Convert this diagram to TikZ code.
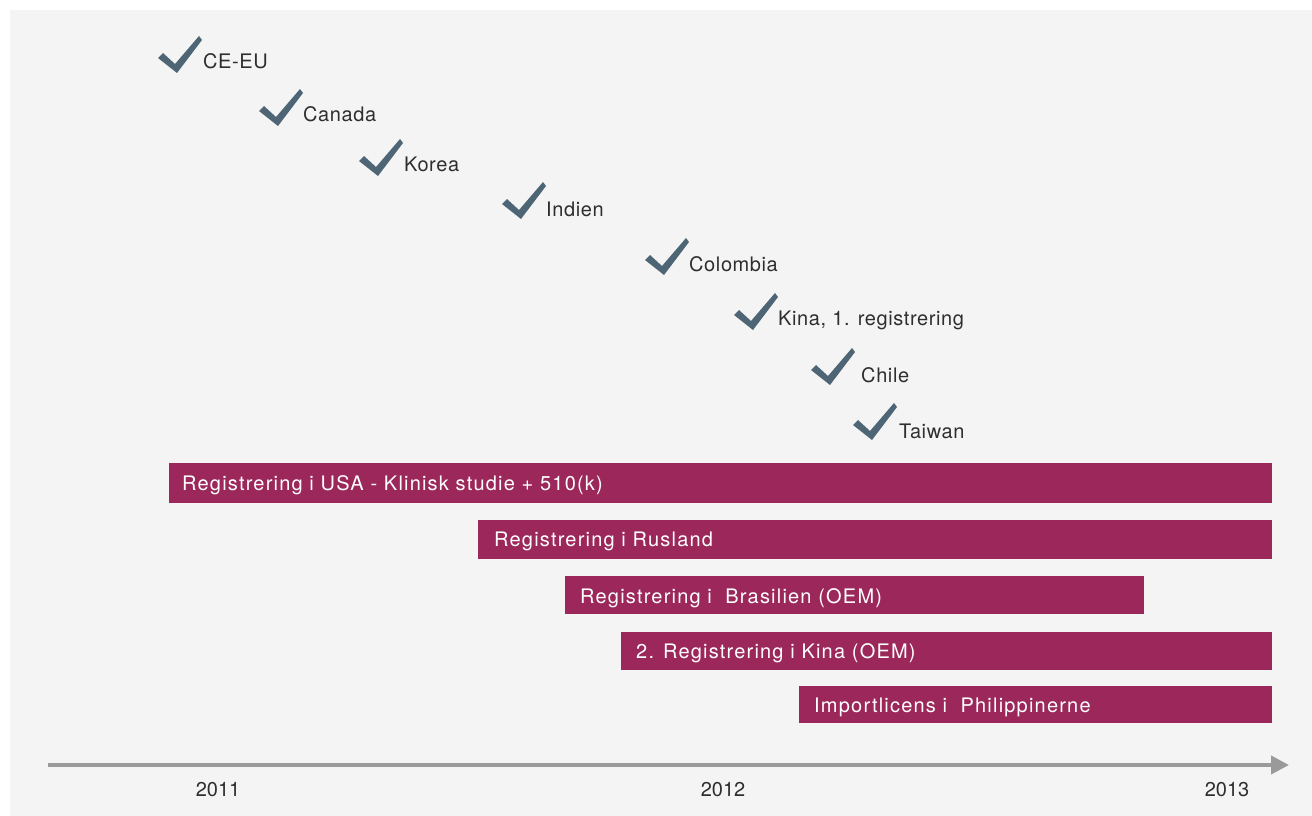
\documentclass[tikz,border=0pt]{standalone}
\usepackage{fontspec}
\setmainfont{TeX Gyre Heros}
\newfontfamily\barfont[LetterSpace=6]{TeX Gyre Heros}
\newfontfamily\lblfont[LetterSpace=3]{TeX Gyre Heros}
\usetikzlibrary{arrows.meta}
\definecolor{bg}{HTML}{F4F4F4}
\definecolor{barc}{HTML}{9C285B}
\definecolor{checkc}{HTML}{4E6575}
\definecolor{txt}{HTML}{2E2E2E}
\definecolor{axisc}{HTML}{9A9A9A}
\tikzset{
  lbl/.style={anchor=west, inner sep=0pt, text=txt, font=\lblfont\fontsize{20}{23}\selectfont},
  yr/.style={inner sep=0pt, text=txt, font=\fontsize{20}{23}\selectfont},
  bartxt/.style={anchor=west, inner sep=0pt, text=white, font=\barfont\fontsize{20}{23}\selectfont},
  chk/.pic={\fill[checkc] (-18,-14) -- (-13,-19) -- (-1,-8) -- (23,-36) -- (26,-32) -- (1,1) -- cycle;}
}
\begin{document}
\begin{tikzpicture}[x=1pt,y=-1pt]
\useasboundingbox (0,0) rectangle (1312,816);
\fill[white] (0,0) rectangle (1312,816);
\fill[bg] (10,10) rectangle (1312,816);
% checks
\pic at (176,72) {chk}; \node[lbl] (ceeu) at (203,61) {CE-EU};
\pic at (277,125) {chk}; \node[lbl] (canada) at (303,114) {Canada};
\pic at (377,175) {chk}; \node[lbl] (korea) at (404,164) {Korea};
\pic at (520,218) {chk}; \node[lbl] (indien) at (546,209) {Indien};
\pic at (663,274) {chk}; \node[lbl] (colombia) at (689,264) {Colombia};
\pic at (752,329) {chk}; \node[lbl] (kina) at (778,320) {Kina, 1. registrering};
\pic at (829,384) {chk}; \node[lbl] (chile) at (861,375) {Chile};
\pic at (871,439) {chk}; \node[lbl] (taiwan) at (899,431) {Taiwan};
% bars
\fill[barc] (169,463) rectangle (1272,503);
\node[bartxt] (usa) at (182,485) {Registrering i USA - Klinisk studie + 510(k)};
\fill[barc] (478,520) rectangle (1272,559);
\node[bartxt] (rus) at (494,541) {Registrering i Rusland};
\fill[barc] (565,576) rectangle (1144,614);
\node[bartxt] (bra) at (580,598) {Registrering i\ \ Brasilien (OEM)};
\fill[barc] (621,632) rectangle (1272,670);
\node[bartxt] (kina2) at (636,653) {2. Registrering i Kina (OEM)};
\fill[barc] (799,686) rectangle (1272,723);
\node[bartxt] (phil) at (814,707) {Importlicens i\ \ Philippinerne};
% axis
\coordinate (a0) at (48,765);
\coordinate (a1) at (1289,765);
\draw[axisc, line width=4pt, -{Triangle[length=18pt,width=18pt]}] (a0) -- (a1);
\node[yr] (y11) at (218,790) {2011};
\node[yr] (y12) at (723,790) {2012};
\node[yr] (y13) at (1227,790) {2013};
\end{tikzpicture}
\end{document}
